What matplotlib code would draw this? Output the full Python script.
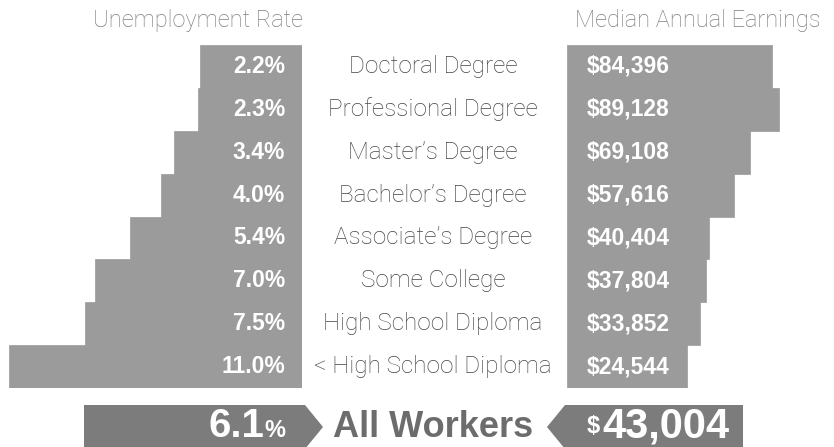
import matplotlib
matplotlib.use("Agg")
import matplotlib.pyplot as plt
import matplotlib.transforms as mtransforms
from matplotlib.patches import Polygon

degrees = ["Doctoral Degree", "Professional Degree", "Master\u2019s Degree",
           "Bachelor\u2019s Degree", "Associate\u2019s Degree", "Some College",
           "High School Diploma", "< High School Diploma"]
unemployment = [2.2, 2.3, 3.4, 4.0, 5.4, 7.0, 7.5, 11.0]
earnings = [84396, 89128, 69108, 57616, 40404, 37804, 33852, 24544]
all_rate = 6.1
all_earnings = 43004

W, H = 834, 447
bar_color = "#9b9b9b"
dark = "#7c7c7c"
plt.rcParams["font.family"] = ["Liberation Sans", "DejaVu Sans"]
thin = ["Roboto", "Liberation Sans", "DejaVu Sans"]

fig = plt.figure(figsize=(W / 100, H / 100), dpi=100)


def fx(px):
    return px / W


def fy(py):
    return 1 - py / H


top, bottom = 45, 388
y = list(range(len(degrees)))

# left: unemployment (bars grow leftwards from a fixed base)
pad_l = 2.5
scale_l = 21.74  # pixels per percentage point
axL = fig.add_axes([0, fy(bottom), fx(302), (bottom - top) / H])
axL.barh(y, [v + pad_l for v in unemployment], left=-pad_l, height=1.0,
         color=bar_color, edgecolor=bar_color, linewidth=0.5)
axL.set_xlim(-pad_l + 302 / scale_l, -pad_l)
axL.set_ylim(len(degrees) - 0.5, -0.5)
axL.axis("off")
for i, v in enumerate(unemployment):
    axL.annotate(f"{v:.1f}%", xy=(-pad_l, i), xytext=(-17, 0),
                 textcoords="offset pixels", ha="right", va="center",
                 color="white", fontsize=16.5, fontweight="bold")

# right: earnings
pad_r = 59500
scale_r = 1.424 / 1000  # pixels per dollar
axR = fig.add_axes([fx(567), fy(bottom), fx(W - 567), (bottom - top) / H])
axR.barh(y, [v + pad_r for v in earnings], left=-pad_r, height=1.0,
         color=bar_color, edgecolor=bar_color, linewidth=0.5)
axR.set_xlim(-pad_r, -pad_r + (W - 567) / scale_r)
axR.set_ylim(len(degrees) - 0.5, -0.5)
axR.axis("off")
for i, v in enumerate(earnings):
    axR.annotate(f"${v:,}", xy=(-pad_r, i), xytext=(20, 0),
                 textcoords="offset pixels", ha="left", va="center",
                 color="white", fontsize=16.5, fontweight="bold")

# category labels in the middle
trans = mtransforms.blended_transform_factory(fig.transFigure, axR.transData)
for i, name in enumerate(degrees):
    fig.text(fx(433), i, name, transform=trans, ha="center", va="center",
             fontsize=17.5, color="#454545", family=thin, fontweight="light")

# headers
fig.text(fx(198), fy(20), "Unemployment Rate", ha="center", va="center",
         fontsize=17, color="#7e7e7e", family=thin, fontweight="light")
fig.text(fx(698), fy(20), "Median Annual Earnings", ha="center", va="center",
         fontsize=17, color="#7e7e7e", family=thin, fontweight="light")

# "All Workers" banner
btop, bbot, bmid = 405, 449, 427
left_box = [(84, btop), (305, btop), (323, bmid), (305, bbot), (84, bbot)]
right_box = [(565, btop), (743, btop), (743, bbot), (565, bbot), (547, bmid)]
for pts in (left_box, right_box):
    fig.patches.append(Polygon([(fx(a), fy(b)) for a, b in pts], closed=True,
                               transform=fig.transFigure, facecolor=dark,
                               edgecolor="none"))

base = 437
fig.text(fx(285), fy(base), "%", ha="right", va="baseline", color="white",
         fontsize=17, fontweight="bold")
fig.text(fx(264), fy(base), f"{all_rate:.1f}", ha="right", va="baseline",
         color="white", fontsize=29, fontweight="bold")
fig.text(fx(433), fy(base), "All Workers", ha="center", va="baseline",
         color="#6c6c6c", fontsize=26, fontweight="bold")
fig.text(fx(587), fy(base - 4), "$", ha="left", va="baseline", color="white",
         fontsize=17, fontweight="bold")
fig.text(fx(602), fy(base), f"{all_earnings:,}", ha="left", va="baseline",
         color="white", fontsize=30, fontweight="bold")

fig.savefig("out.png", dpi=100, facecolor="white")
